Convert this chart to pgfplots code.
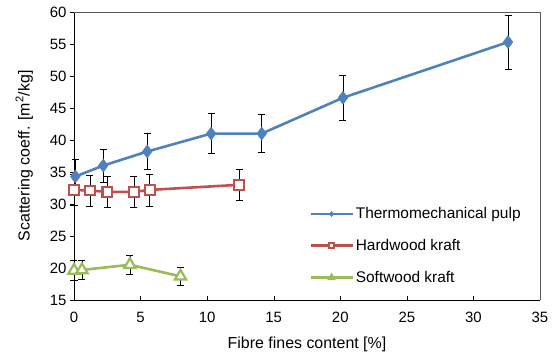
\documentclass[border=0pt]{standalone}
\usepackage{pgfplots}
\pgfplotsset{compat=1.18}
\usepackage{fontspec}
\setmainfont{Liberation Sans}
\definecolor{tmp}{RGB}{79,129,189}
\definecolor{hwk}{RGB}{192,80,77}
\definecolor{swk}{RGB}{155,187,89}
\begin{document}
\begin{tikzpicture}
\begin{axis}[
  scale only axis,
  width=466bp, height=288bp,
  xmin=0, xmax=35, ymin=15, ymax=60,
  xtick={0,5,...,35}, ytick={15,20,...,60},
  xtick align=inside, ytick align=outside,
  major tick length=4bp,
  tick style={black, thin},
  axis x line*=bottom, axis y line*=left,
  axis line style={black, line width=0.8pt},
  /pgf/number format/assume math mode=true,
  ticklabel style={font=\fontsize{15}{17}\selectfont},
  xticklabel style={yshift=-9bp},
  label style={font=\fontsize{16}{18}\selectfont},
  xlabel={Fibre fines content [\%]},
  ylabel={Scattering coeff. [m\textsuperscript{2}/kg]},
  xlabel style={yshift=-7bp},
  ylabel style={yshift=10bp},
  clip=false,
  legend cell align=left,
  legend style={draw=none, fill=none, at={(rel axis cs:0.498,0.335)}, anchor=north west,
    font=\fontsize{15.5}{17}\selectfont, row sep=15bp},
  legend image code/.code={
    \draw[#1, mark=none] (0bp,0bp) -- (42bp,0bp);
    \draw[#1, only marks, mark size=2.6pt] plot coordinates {(21bp,0bp)};
  },
  error bars/y dir=both, error bars/y explicit,
  error bars/error bar style={black, line width=0.8pt},
  error bars/error mark options={black, line width=0.8pt, mark size=3.5bp, rotate=90},
]
\draw[gray!70!black, line width=0.6pt] (rel axis cs:0,1) -- (rel axis cs:1,1) -- (rel axis cs:1,0);
\addplot[tmp, line width=2.6pt, mark=diamond*, mark size=6.5bp, mark options={fill=tmp, line width=0.5pt}]
  coordinates {
  (0.1,34.3) +- (0,2.6)
  (2.2,36.0) +- (0,2.6)
  (5.5,38.2) +- (0,2.8)
  (10.3,41.0) +- (0,3.1)
  (14.1,41.0) +- (0,3.0)
  (20.2,46.6) +- (0,3.5)
  (32.6,55.3) +- (0,4.2)
  };
\addlegendentry{Thermomechanical pulp}
\addplot[hwk, line width=2.6pt, mark=square*, mark size=4.8bp, mark options={fill=white, line width=2.2pt}]
  coordinates {
  (0.0,32.2) +- (0,2.4)
  (1.2,32.1) +- (0,2.4)
  (2.5,31.9) +- (0,2.4)
  (4.5,31.9) +- (0,2.4)
  (5.7,32.2) +- (0,2.5)
  (12.4,33.0) +- (0,2.4)
  };
\addlegendentry{Hardwood kraft}
\addplot[swk, line width=2.6pt, mark=triangle*, mark size=6.5bp, mark options={fill=white, line width=2.2pt}]
  coordinates {
  (0.0,19.6) +- (0,1.6)
  (0.6,19.7) +- (0,1.5)
  (4.2,20.5) +- (0,1.5)
  (8.0,18.7) +- (0,1.4)
  };
\addlegendentry{Softwood kraft}
\end{axis}
\useasboundingbox ([xshift=-74bp,yshift=-60bp]current axis.south west) rectangle ([xshift=12bp,yshift=12bp]current axis.north east);
\end{tikzpicture}
\end{document}
